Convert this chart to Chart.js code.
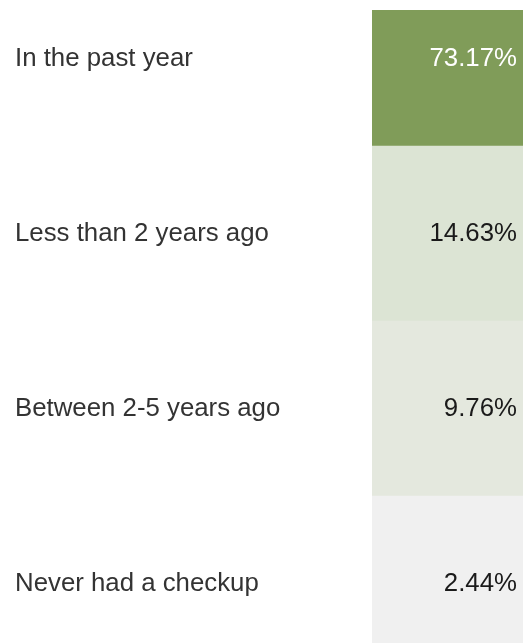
<!DOCTYPE html>
<html>
<head>
<meta charset="utf-8">
<script src="https://cdn.jsdelivr.net/npm/chart.js@4/dist/chart.umd.min.js"></script>
<style>
  html, body { margin: 0; padding: 0; background: #fff; }
</style>
</head>
<body>
<canvas id="myChart" width="523" height="643"></canvas>
<script>
// data
const categories = ['In the past year', 'Less than 2 years ago', 'Between 2-5 years ago', 'Never had a checkup'];
const percentValues = [73.17, 14.63, 9.76, 2.44];
const valueLabels = ['73.17%', '14.63%', '9.76%', '2.44%'];

// cell styling
const cellColors = ['#809c59', '#dce4d4', '#e4e8de', '#f0f0f0'];
const textColors = ['#ffffff', '#1a1a1a', '#1a1a1a', '#1a1a1a'];
const FONT = '"Liberation Sans", Arial, sans-serif';

const valueLabelPlugin = {
    id: 'valueLabels',
    afterDatasetsDraw(chart) {
        const ctx = chart.ctx;
        const meta = chart.getDatasetMeta(0);
        ctx.save();
        ctx.font = '25.8px ' + FONT;
        ctx.textAlign = 'right';
        ctx.textBaseline = 'middle';
        meta.data.forEach((bar, i) => {
            ctx.fillStyle = textColors[i];
            ctx.fillText(valueLabels[i], chart.chartArea.right - 6, bar.y);
        });
        ctx.restore();
    }
};

const ctx = document.getElementById('myChart').getContext('2d');
const myChart = new Chart(ctx, {
    type: 'bar',
    data: {
        datasets: [{
            data: percentValues.map((v, i) => ({ y: i, x: [0, 100], v: v })),
            backgroundColor: cellColors,
            borderWidth: 0,
            barPercentage: 1,
            categoryPercentage: 1,
            clip: 0
        }]
    },
    options: {
        indexAxis: 'y',
        responsive: false,
        animation: false,
        layout: { padding: { top: 10, left: 15, right: 0, bottom: 0 } },
        plugins: {
            legend: { display: false },
            tooltip: { enabled: false }
        },
        scales: {
            x: {
                type: 'linear',
                min: 0,
                max: 100,
                display: false
            },
            y: {
                type: 'linear',
                reverse: true,
                offset: false,
                min: -0.5 + 39 / 175,
                max: 3 - 0.5 + 147 / 175,
                grid: { display: false, offset: false },
                border: { display: false },
                afterBuildTicks: (scale) => {
                    scale.ticks = categories.map((c, i) => ({ value: i }));
                },
                afterFit: (scale) => {
                    scale.width = 357;
                    scale.paddingTop = 0;
                    scale.paddingBottom = 0;
                },
                ticks: {
                    crossAlign: 'far',
                    padding: 0,
                    color: '#333333',
                    font: { family: FONT, size: 25.8 },
                    callback: (value) => categories[value]
                }
            }
        }
    },
    plugins: [valueLabelPlugin]
});
</script>
</body>
</html>
